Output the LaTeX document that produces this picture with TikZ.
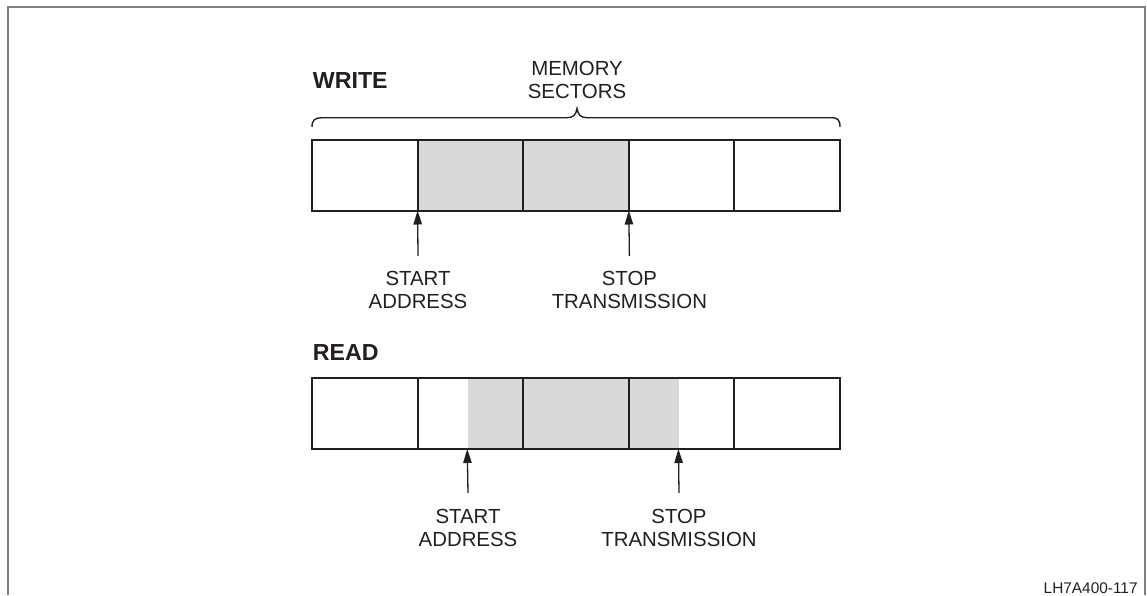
\documentclass[tikz,border=0pt]{standalone}
\usepackage{fontspec}
\setmainfont{Liberation Sans}
\usetikzlibrary{arrows.meta,calc}
\definecolor{ink}{HTML}{231F20}
\definecolor{cellgray}{HTML}{D9D9D9}
\definecolor{framegray}{HTML}{808080}
\tikzset{
  cell/.style={draw=ink, line width=1pt, minimum width=52.8pt, minimum height=35.5pt, inner sep=0pt, outer sep=0pt},
  shadecell/.style={cell, fill=cellgray},
  lbl/.style={align=center, inner sep=0pt, text=ink, font=\fontsize{10.2}{11.5}\selectfont},
  title/.style={anchor=west, inner sep=0pt, text=ink, font=\fontsize{11.6}{13}\selectfont\bfseries},
  ptr/.style={draw=ink, line width=0.65pt, -{Triangle[length=7pt,width=4.2pt]}},
  brace/.style={draw=ink, line width=0.7pt},
  frame/.style={draw=framegray, line width=1pt}
}
\begin{document}
\begin{tikzpicture}[x=0.5pt,y=-0.5pt]
\useasboundingbox (0,0) rectangle (1147,595);
\fill[white] (0,0) rectangle (1147,595);
% frame
\draw[frame] (7.5,595) |- (1144.5,6.5) -- (1144.5,595);

% WRITE row
\node[title] (write) at (312.5,81) {WRITE};
\node[cell]      (w1) at (364.8,175) {};
\node[shadecell] (w2) at (470.4,175) {};
\node[shadecell] (w3) at (576.0,175) {};
\node[cell]      (w4) at (681.6,175) {};
\node[cell]      (w5) at (787.2,175) {};

\node[lbl] (mem) at (577,79.5) {MEMORY\\SECTORS};
\draw[brace] (312,127) .. controls (312,120) and (315,117.7) .. (322,117.7)
  -- (567,117.7) .. controls (573,117.7) and (576,115) .. (577,108.5)
  .. controls (578,115) and (581,117.7) .. (587,117.7)
  -- (831,117.7) .. controls (838,117.7) and (840,120) .. (840,127);

\coordinate (wsa) at (418,256);
\coordinate (wsb) at (629.4,256);
\draw[ptr] (wsa) -- (w2.south west);
\draw[ptr] (wsb) -- (w4.south west);
\node[lbl] (wstart) at (418,290.4) {START\\ADDRESS};
\node[lbl] (wstop) at (629.4,290.4) {STOP\\TRANSMISSION};

% READ row
\node[title] (read) at (312.5,353) {READ};
\fill[cellgray] (468,378) rectangle (523.8,449);
\fill[cellgray] (629.4,378) rectangle (679,449);
\node[cell]      (r1) at (364.8,413.5) {};
\node[cell]      (r2) at (470.4,413.5) {};
\node[shadecell] (r3) at (576.0,413.5) {};
\node[cell]      (r4) at (681.6,413.5) {};
\node[cell]      (r5) at (787.2,413.5) {};

\coordinate (rs) at ($(r2.south west)!0.47!(r2.south east)$);
\coordinate (re) at ($(r4.south west)!0.47!(r4.south east)$);
\coordinate (rsa) at (468,493);
\coordinate (rsb) at (679,493);
\draw[ptr] (rsa) -- (rs);
\draw[ptr] (rsb) -- (re);
\node[lbl] (rstart) at (468,528) {START\\ADDRESS};
\node[lbl] (rstop) at (679,528) {STOP\\TRANSMISSION};

\node[anchor=east, inner sep=0pt, text=ink, font=\fontsize{7.7}{9}\selectfont] (fig) at (1138,588) {LH7A400-117};
\end{tikzpicture}
\end{document}
